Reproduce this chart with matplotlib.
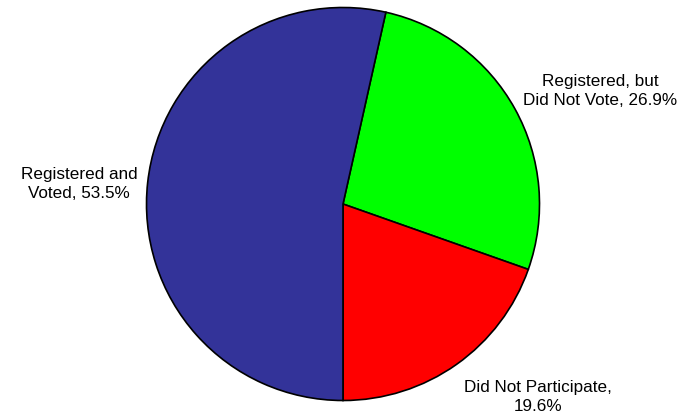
import matplotlib.pyplot as plt

# slices in clockwise order, starting near the top
categories = ['Registered, but\nDid Not Vote', 'Did Not Participate,\n', 'Registered and\nVoted']
shares = [26.9, 19.6, 53.5]
colors = ['#00FF00', '#FF0000', '#333399']

# label text placement (pixels, origin bottom-left)
label_pos = [(600, 326), (538, 20), (79, 233)]

plt.rcParams['font.family'] = ['Liberation Sans', 'DejaVu Sans']

fig = plt.figure(figsize=(6.92, 4.17), dpi=100)
ax = fig.add_axes([0, 0, 1, 1])
ax.set_xlim(0, 692)
ax.set_ylim(0, 417)
ax.axis('off')

# start so that the blue slice ends exactly at the bottom
start = -90 + 3.6 * (shares[0] + shares[1])
ax.pie(shares, colors=colors, startangle=start, counterclock=False,
       center=(343, 213), radius=196.5, frame=True,
       wedgeprops={'edgecolor': 'black', 'linewidth': 1.2})
ax.set_xlim(0, 692)
ax.set_ylim(0, 417)
ax.axis('off')

for cat, val, (x, y) in zip(categories, shares, label_pos):
    if cat.endswith('\n'):
        txt = f'{cat}{val:.1f}%'
    else:
        txt = f'{cat}, {val:.1f}%'
    ax.text(x, y, txt, ha='center', va='center', fontsize=12.3,
            linespacing=1.35, color='black')

fig.savefig('out.png', dpi=100)
